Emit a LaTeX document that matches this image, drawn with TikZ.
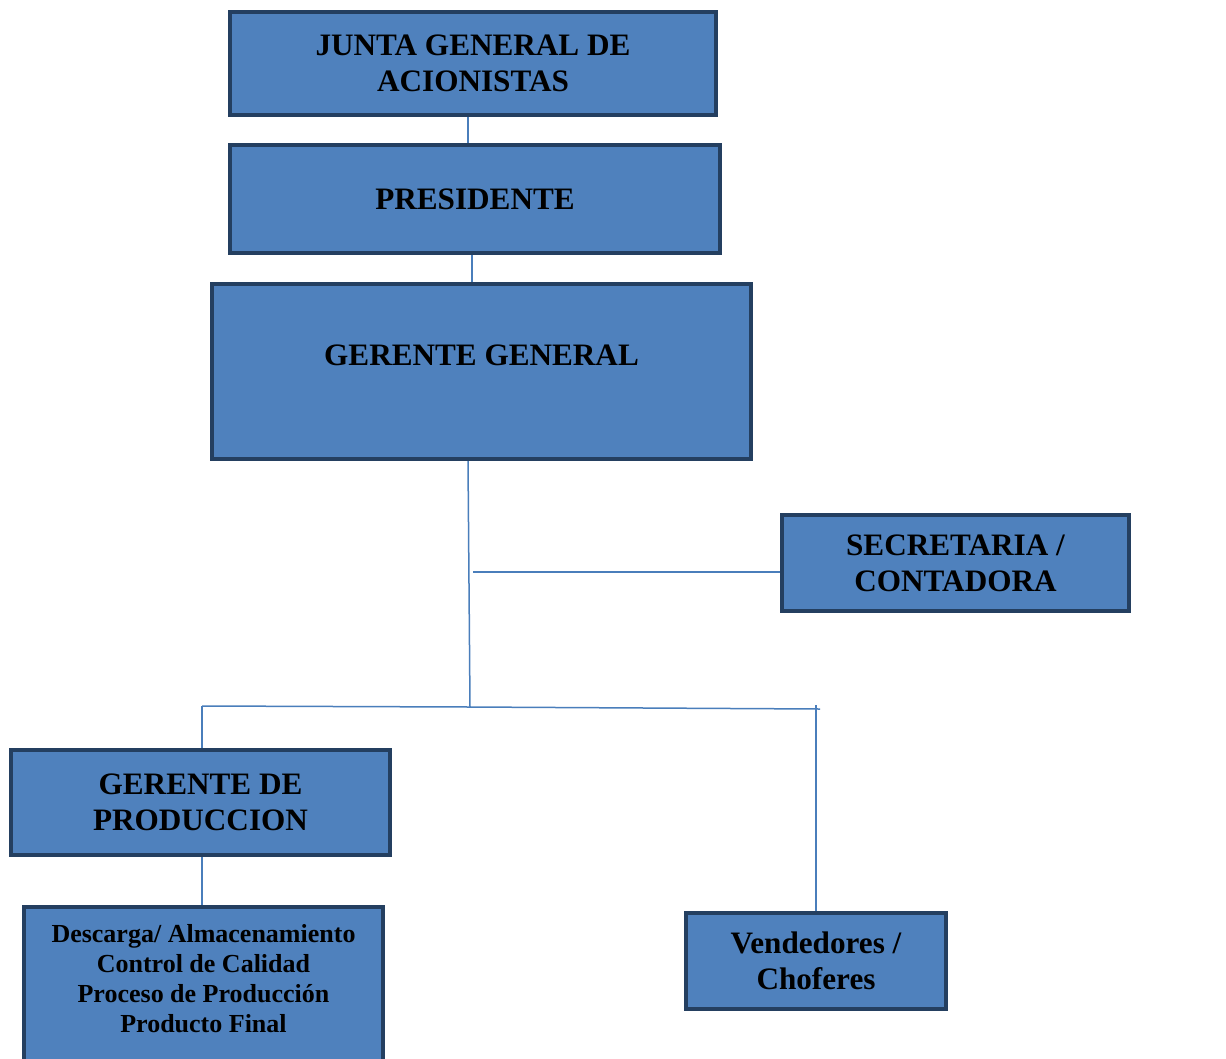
\documentclass[tikz,border=0pt]{standalone}
\usepackage{fontspec}
\setmainfont{Liberation Serif}
\definecolor{boxfill}{HTML}{4F81BD}
\definecolor{boxline}{HTML}{243F60}
\definecolor{conn}{HTML}{4A7EBB}
\begin{document}
\begin{tikzpicture}[x=1pt,y=-1pt,
  orgbox/.style={draw=boxline, fill=boxfill, line width=4pt, rectangle, inner sep=0pt, align=center,
    font=\bfseries\fontsize{31.2}{36}\selectfont},
  lbl/.style={inner sep=0pt, align=center},
  link/.style={draw=conn, line width=1.5pt}]
\useasboundingbox (0,0) rectangle (1226,1058);
\fill[white] (0,0) rectangle (1226,1058);
% boxes
\node[orgbox, minimum width=486pt, minimum height=103pt] (junta) at (473,63.5) {JUNTA GENERAL DE\\ACIONISTAS};
\node[orgbox, minimum width=490pt, minimum height=108pt] (pres) at (475,199) {PRESIDENTE};
\node[orgbox, minimum width=539pt, minimum height=175pt] (gg) at (481.5,371.5) {};
\node[lbl, font=\bfseries\fontsize{31.2}{36}\selectfont] (ggt) at ([yshift=16pt]gg.center) {GERENTE GENERAL};
\node[orgbox, minimum width=347pt, minimum height=96pt] (sec) at (955.5,563) {SECRETARIA /\\CONTADORA};
\node[orgbox, minimum width=379pt, minimum height=105pt] (gp) at (200.5,802.5) {GERENTE DE\\PRODUCCION};
\node[orgbox, minimum width=359pt, minimum height=170pt] (desc) at (203.5,992) {};
\node[lbl, font=\bfseries\fontsize{26}{30}\selectfont] (desct) at (203.5,978.5) {Descarga/ Almacenamiento\\Control de Calidad\\Proceso de Producción\\Producto Final};
\node[orgbox, minimum width=260pt, minimum height=96pt] (vend) at (816,960.5) {Vendedores /\\Choferes};
% junction coordinates
\coordinate (jtop) at (468,461);
\coordinate (jmid) at (470,707);
\coordinate (jsec) at (473,572);
\coordinate (bl) at (202,706);
\coordinate (br) at (820,709);
\coordinate (vtop) at (816,705);
% connectors
\draw[link] ([xshift=-5pt]junta.south) -- ([xshift=-5pt]junta.south |- pres.north);
\draw[link] ([xshift=-3pt]pres.south) -- ([xshift=-3pt]pres.south |- gg.north);
\draw[link] (jtop) -- (jmid);
\draw[link] (jsec) -- (jsec -| sec.west);
\draw[link] (bl) -- (jmid) -- (br);
\draw[link] (bl) -- (bl |- gp.north);
\draw[link] (vtop) -- (vtop |- vend.north);
\draw[link] ([xshift=1.5pt]gp.south) -- ([xshift=1.5pt]gp.south |- desc.north);
\end{tikzpicture}
\end{document}
